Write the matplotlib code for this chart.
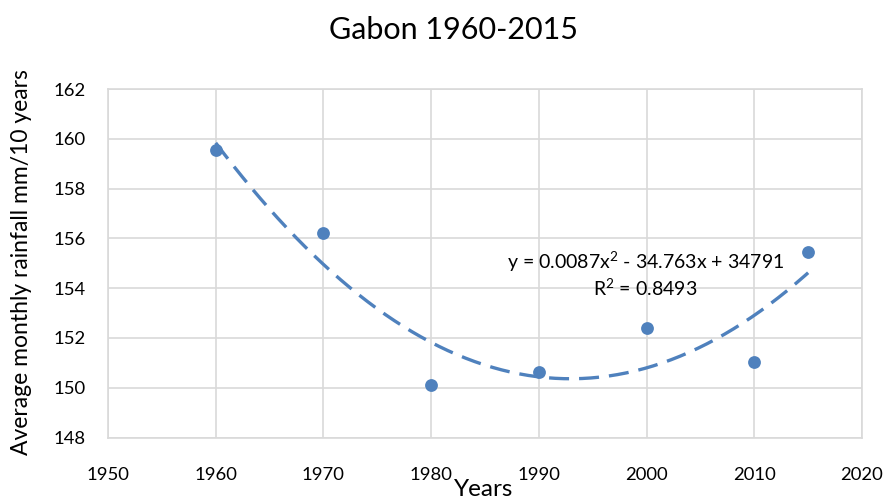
import numpy as np
import matplotlib
matplotlib.use('Agg')
import matplotlib.pyplot as plt

years = np.array([1960, 1970, 1980, 1990, 2000, 2010, 2015])
rainfall = np.array([159.55, 156.2, 150.12, 150.62, 152.39, 151.05, 155.44])
eq_text = 'y = 0.0087x$^2$ - 34.763x + 34791'
r2_text = 'R$^2$ = 0.8493'
x_ticks = [1950, 1960, 1970, 1980, 1990, 2000, 2010, 2020]
y_ticks = [148, 150, 152, 154, 156, 158, 160, 162]

plt.rcParams['font.family'] = ['Lato', 'DejaVu Sans']
plt.rcParams['mathtext.fontset'] = 'custom'
plt.rcParams['mathtext.rm'] = 'Lato'

BLUE = '#4f81bd'
GRID = '#d9d9d9'

fig = plt.figure(figsize=(8.86, 4.99), dpi=100)
ax = fig.add_axes([108 / 886, 1 - 437.5 / 499, 754 / 886, 348.5 / 499])

# quadratic trendline through the points
coef = np.polyfit(years, rainfall, 2)
xt = np.linspace(years.min(), years.max(), 200)
ax.plot(xt, np.polyval(coef, xt), color=BLUE, lw=2.4, ls=(0, (6, 3)), zorder=2)
ax.scatter(years, rainfall, s=85, color=BLUE, zorder=3, linewidths=0)

ax.set_xlim(1950, 2020)
ax.set_ylim(148, 162)
ax.set_xticks(x_ticks)
ax.set_yticks(y_ticks)
ax.grid(True, color=GRID, lw=1.2)
ax.set_axisbelow(True)
for s in ax.spines.values():
    s.set_color(GRID)
    s.set_linewidth(1.2)
ax.tick_params(length=0, labelsize=13.3, colors='#000000')
ax.tick_params(axis='x', pad=21)
ax.tick_params(axis='y', pad=16)

ax.text(1999.9, 155.05, eq_text, ha='center', va='center', fontsize=14)
ax.text(1999.9, 154.0, r2_text, ha='center', va='center', fontsize=14)

fig.text(453 / 886, 1 - 30 / 499, 'Gabon 1960-2015', ha='center', va='center', fontsize=22)
fig.text(484 / 886, 1 - 489 / 499, 'Years', ha='center', va='center', fontsize=17.5)
fig.text(22 / 886, 1 - 262 / 499, 'Average monthly rainfall mm/10 years', ha='center', va='center',
         rotation=90, fontsize=16.5)

fig.savefig('out.png', dpi=100)
